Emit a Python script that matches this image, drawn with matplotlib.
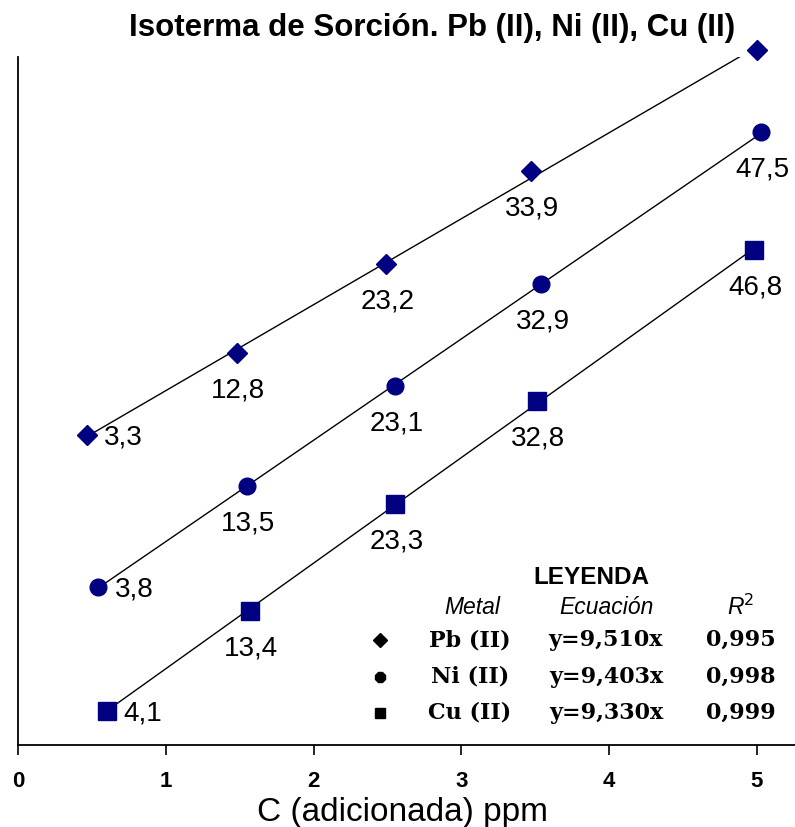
import numpy as np
import matplotlib.pyplot as plt

# Datos de la isoterma (x: C adicionada en ppm, valores rotulados en cada punto)
x_pb = [0.47, 1.48, 2.49, 3.47, 5.00]
v_pb = [3.3, 12.8, 23.2, 33.9, 48.0]

x_ni = [0.54, 1.55, 2.55, 3.54, 5.03]
v_ni = [3.8, 13.5, 23.1, 32.9, 47.5]

x_cu = [0.60, 1.57, 2.55, 3.51, 4.98]
v_cu = [4.1, 13.4, 23.3, 32.8, 46.8]

metales = ['Pb (II)', 'Ni (II)', 'Cu (II)']
ecuaciones = ['y=9,510x', 'y=9,403x', 'y=9,330x']
r2 = ['0,995', '0,998', '0,999']
xticks = [0, 1, 2, 3, 4, 5]

# cada serie va desplazada en vertical para que no se solapen
escala = {'Pb': 1.172, 'Ni': 1.416, 'Cu': 1.468}
desplaz = {'Pb': 38.3, 'Ni': 16.1, 'Cu': -1.39}

azul = '#000080'
sans = 'Liberation Sans'
serif = 'DejaVu Serif'

fig = plt.figure(figsize=(7.95, 8.27), dpi=100)
ax = fig.add_axes([0.0226, 0.0992, 0.9774, 0.8319])

series = [('Pb', x_pb, v_pb, 'D', 10),
          ('Ni', x_ni, v_ni, 'o', 12),
          ('Cu', x_cu, v_cu, 's', 12.5)]

for clave, xs, vs, mk, ms in series:
    xs = np.array(xs)
    ys = desplaz[clave] + escala[clave] * np.array(vs)
    # recta de tendencia
    m, b = np.polyfit(xs, ys, 1)
    xl = np.array([xs[0], xs[-1]])
    ax.plot(xl, m * xl + b, color='black', lw=1.0, zorder=2)
    ax.plot(xs, ys, linestyle='none', marker=mk, ms=ms, color=azul,
            clip_on=False, zorder=3)
    for i, (xx, yy, vv) in enumerate(zip(xs, ys, vs)):
        txt = f'{vv:g}'.replace('.', ',')
        if i == 0:
            ax.annotate(txt, (xx, yy), xytext=(12, -2), textcoords='offset points',
                        ha='left', va='center', fontsize=20, family=sans)
        else:
            ax.annotate(txt, (xx, yy), xytext=(1, -27), textcoords='offset points',
                        ha='center', va='center', fontsize=20, family=sans)

ax.set_xlim(0, 5.257)
ax.set_ylim(0, 93.6)
ax.set_xticks(xticks)
ax.set_xticklabels([str(t) for t in xticks], family=sans, fontweight='bold', fontsize=16)
ax.set_yticks([])
ax.tick_params(axis='x', direction='out', length=7, width=1.2, pad=12)
for lado in ['top', 'right']:
    ax.spines[lado].set_visible(False)
for lado in ['left', 'bottom']:
    ax.spines[lado].set_linewidth(1.3)

ax.set_xlabel('C (adicionada) ppm', family=sans, fontsize=24)
ax.xaxis.set_label_coords(0.495, -0.076)

fig.suptitle('Isoterma de Sorción. Pb (II), Ni (II), Cu (II)', x=0.543, y=0.966,
             va='center', fontsize=22.5, fontweight='bold', family=sans)


# leyenda dibujada como tabla de texto
def fx(px):
    return px / 795


def fy(py):
    return 1 - py / 827


fig.text(fx(591), fy(578), 'LEYENDA', ha='center', va='center', fontsize=17.5,
         fontweight='bold', family=sans)
for cx, t in [(472, 'Metal'), (606, 'Ecuación'), (741, 'R$^2$')]:
    fig.text(fx(cx), fy(607), t, ha='center', va='center', fontsize=16.5,
             style='italic', family=sans)

marcas = [('D', 7), ('8', 8.5), ('s', 7.5)]
for k, py in enumerate([640, 677, 713]):
    mk, ms = marcas[k]
    fig.add_artist(plt.Line2D([fx(380)], [fy(py)], marker=mk, ms=ms, color='black',
                              transform=fig.transFigure))
    fig.text(fx(470), fy(py), metales[k], ha='center', va='center', fontsize=16,
             fontweight='bold', family=serif)
    fig.text(fx(606), fy(py), ecuaciones[k], ha='center', va='center', fontsize=16,
             fontweight='bold', family=serif)
    fig.text(fx(741), fy(py), r2[k], ha='center', va='center', fontsize=16,
             fontweight='bold', family=serif)

fig.savefig('out.png', dpi=100)
